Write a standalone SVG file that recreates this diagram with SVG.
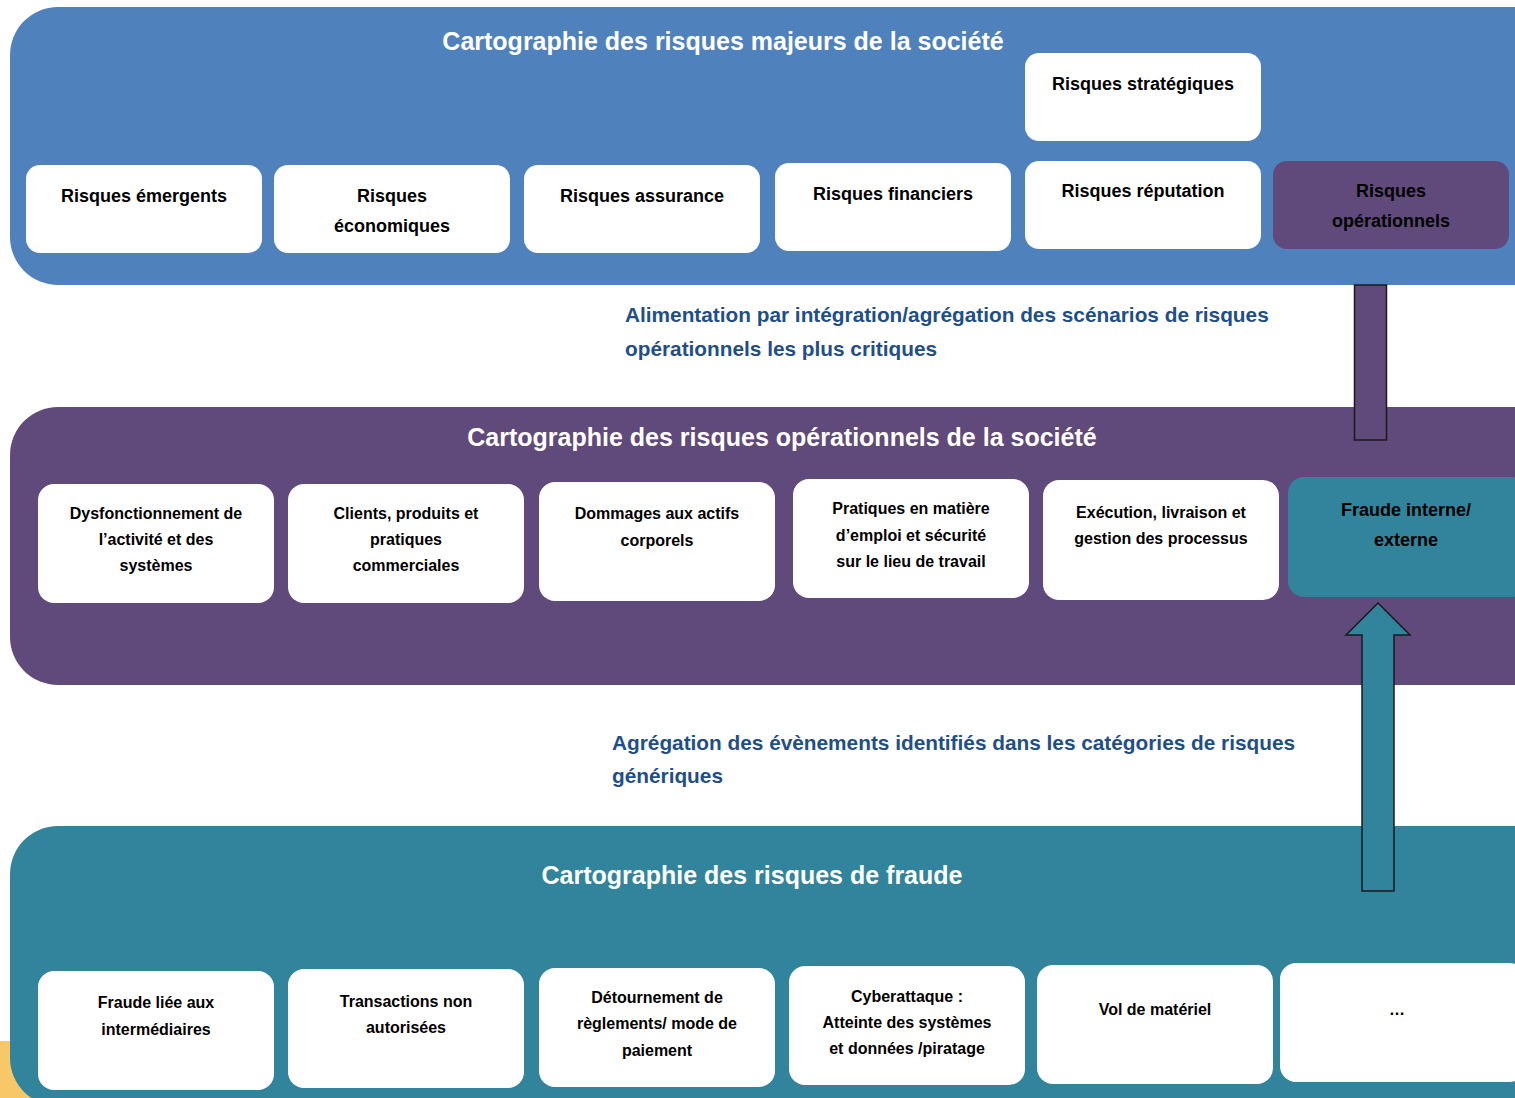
<svg xmlns="http://www.w3.org/2000/svg" width="1515" height="1098" viewBox="0 0 1515 1098">
<style>
text{font-family:"Liberation Sans",Arial,sans-serif;font-weight:bold;text-anchor:middle}
.title{fill:#ffffff;font-size:25px}
.bx{fill:#ffffff}
.t18{font-size:18px;fill:#000}
.t16{font-size:16px;fill:#000}
.lbl{font-size:20.8px;fill:#1F4E89;text-anchor:start}
</style>
<rect width="1515" height="1098" fill="#ffffff"/>
<rect x="0" y="1041" width="60" height="57" fill="#F7C768"/>
<g id="panel-top">
<rect x="10" y="7" width="1550" height="278" rx="48" fill="#4F81BD"/>
<text class="title" x="723" y="50">Cartographie des risques majeurs de la société</text>
</g>
<g id="panel-mid">
<rect x="10" y="407" width="1550" height="278" rx="48" fill="#604A7B"/>
<text class="title" x="782" y="446">Cartographie des risques opérationnels de la société</text>
</g>
<g id="panel-bot">
<rect x="10" y="826" width="1550" height="280" rx="48" fill="#31849B"/>
<text class="title" x="752" y="884">Cartographie des risques de fraude</text>
</g>
<g id="connectors">
<rect x="1354.5" y="285" width="32" height="155" fill="#604A7B" stroke="#1a1a1a" stroke-width="1.5"/>
<path d="M1378 603 L1410 635 L1394 635 L1394 891 L1362 891 L1362 635 L1346 635 Z" fill="#31849B" stroke="#1a1a1a" stroke-width="1.5"/>
</g>
<g id="label-1"><text class="lbl" x="625" y="322">Alimentation par intégration/agrégation des scénarios de risques</text><text class="lbl" x="625" y="356">opérationnels les plus critiques</text></g>
<g id="label-2"><text class="lbl" x="612" y="750">Agrégation des évènements identifiés dans les catégories de risques</text><text class="lbl" x="612" y="783">génériques</text></g>
<g id="n-emergents"><rect class="bx" x="26" y="165" width="236" height="88" rx="14"/><text class="t18" x="144" y="202">Risques émergents</text></g>
<g id="n-economiques"><rect class="bx" x="274" y="165" width="236" height="88" rx="14"/><text class="t18" x="392" y="202">Risques</text><text class="t18" x="392" y="232">économiques</text></g>
<g id="n-assurance"><rect class="bx" x="524" y="165" width="236" height="88" rx="14"/><text class="t18" x="642" y="202">Risques assurance</text></g>
<g id="n-financiers"><rect class="bx" x="775" y="163" width="236" height="88" rx="14"/><text class="t18" x="893" y="200">Risques financiers</text></g>
<g id="n-strategiques"><rect class="bx" x="1025" y="53" width="236" height="88" rx="14"/><text class="t18" x="1143" y="90">Risques stratégiques</text></g>
<g id="n-reputation"><rect class="bx" x="1025" y="161" width="236" height="88" rx="14"/><text class="t18" x="1143" y="197">Risques réputation</text></g>
<g id="n-operationnels"><rect x="1273" y="161" width="236" height="88" rx="14" fill="#604A7B"/><text class="t18" x="1391" y="197" fill="#111">Risques</text><text class="t18" x="1391" y="227" fill="#111">opérationnels</text></g>
<g id="n-dysfonctionnement"><rect class="bx" x="38" y="484" width="236" height="119" rx="16"/><text class="t16" x="156" y="519">Dysfonctionnement de</text><text class="t16" x="156" y="545">l’activité et des</text><text class="t16" x="156" y="571">systèmes</text></g>
<g id="n-clients"><rect class="bx" x="288" y="484" width="236" height="119" rx="16"/><text class="t16" x="406" y="519">Clients, produits et</text><text class="t16" x="406" y="545">pratiques</text><text class="t16" x="406" y="571">commerciales</text></g>
<g id="n-dommages"><rect class="bx" x="539" y="482" width="236" height="119" rx="16"/><text class="t16" x="657" y="519">Dommages aux actifs</text><text class="t16" x="657" y="546">corporels</text></g>
<g id="n-pratiques"><rect class="bx" x="793" y="479" width="236" height="119" rx="16"/><text class="t16" x="911" y="514">Pratiques en matière</text><text class="t16" x="911" y="541">d’emploi et sécurité</text><text class="t16" x="911" y="567">sur le lieu de travail</text></g>
<g id="n-execution"><rect class="bx" x="1043" y="480" width="236" height="120" rx="16"/><text class="t16" x="1161" y="518">Exécution, livraison et</text><text class="t16" x="1161" y="544">gestion des processus</text></g>
<g id="n-fraude-ie"><rect x="1288" y="477" width="240" height="120" rx="16" fill="#31849B"/><text class="t18" x="1406" y="516" fill="#111" font-size="18.5">Fraude interne/</text><text class="t18" x="1406" y="546" fill="#111" font-size="18.5">externe</text></g>
<g id="n-intermediaires"><rect class="bx" x="38" y="971" width="236" height="119" rx="16"/><text class="t16" x="156" y="1008">Fraude liée aux</text><text class="t16" x="156" y="1035">intermédiaires</text></g>
<g id="n-transactions"><rect class="bx" x="288" y="969" width="236" height="119" rx="16"/><text class="t16" x="406" y="1007">Transactions non</text><text class="t16" x="406" y="1033">autorisées</text></g>
<g id="n-detournement"><rect class="bx" x="539" y="968" width="236" height="119" rx="16"/><text class="t16" x="657" y="1003">Détournement de</text><text class="t16" x="657" y="1029">règlements/ mode de</text><text class="t16" x="657" y="1056">paiement</text></g>
<g id="n-cyber"><rect class="bx" x="789" y="966" width="236" height="119" rx="16"/><text class="t16" x="907" y="1002">Cyberattaque :</text><text class="t16" x="907" y="1028">Atteinte des systèmes</text><text class="t16" x="907" y="1054">et données /piratage</text></g>
<g id="n-vol"><rect class="bx" x="1037" y="965" width="236" height="119" rx="16"/><text class="t16" x="1155" y="1015">Vol de matériel</text></g>
<g id="n-etc"><rect class="bx" x="1280" y="963" width="245" height="119" rx="16"/><text class="t16" x="1397" y="1015">…</text></g>
</svg>
